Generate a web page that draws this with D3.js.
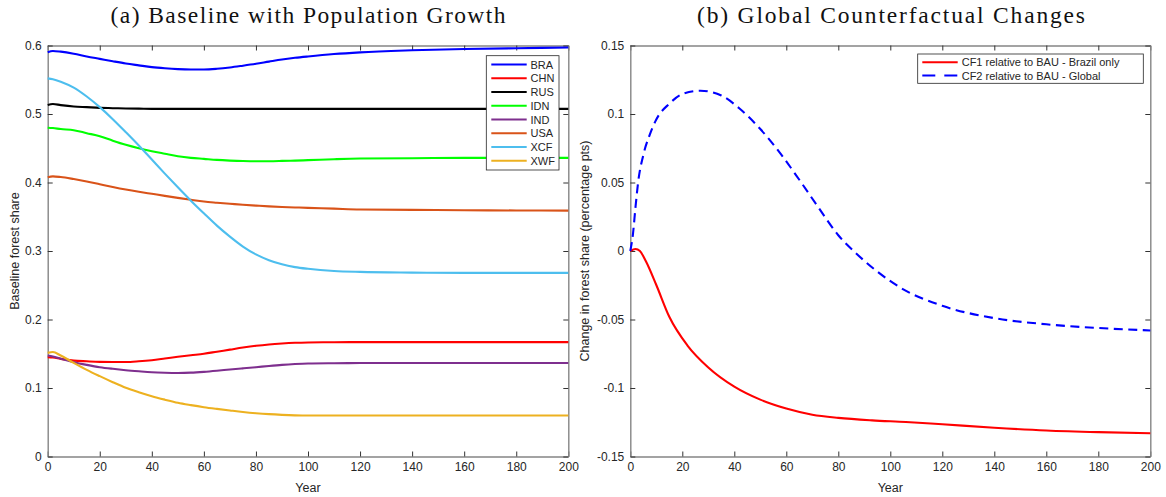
<!DOCTYPE html>
<html><head><meta charset="utf-8">
<script src="https://cdn.jsdelivr.net/npm/d3@7/dist/d3.min.js"></script>
<style>body{margin:0;background:#fff}svg{display:block}</style>
</head><body>
<svg id="c" width="1166" height="497"></svg>
<script>
// ---------- data ----------
const years = [0,2,5,10,15,20,25,30,35,40,45,50,55,60,65,70,75,80,85,90,95,100,110,120,140,160,180,200];
const BRA = [0.590,0.592,0.591,0.588,0.584,0.5805,0.577,0.5737,0.571,0.5684,0.5667,0.5655,0.565,0.565,0.566,0.5679,0.5705,0.5733,0.5765,0.5796,0.582,0.584,0.5875,0.590,0.593,0.595,0.596,0.597];
const CHN = [0.145,0.1445,0.1425,0.140,0.139,0.1382,0.138,0.138,0.139,0.1406,0.143,0.1455,0.1478,0.150,0.153,0.156,0.159,0.1616,0.1636,0.165,0.166,0.1665,0.1668,0.167,0.167,0.167,0.167,0.167];
const RUS = [0.513,0.5145,0.513,0.511,0.510,0.509,0.5085,0.508,0.5078,0.5075,0.5075,0.5075,0.5075,0.5075,0.5075,0.5075,0.5075,0.5075,0.5075,0.5075,0.5075,0.5075,0.5075,0.5075,0.5075,0.5075,0.5075,0.5075];
const IDN = [0.480,0.4795,0.478,0.4764,0.472,0.4676,0.461,0.455,0.450,0.4457,0.442,0.4384,0.436,0.4345,0.433,0.432,0.4313,0.431,0.4311,0.4315,0.432,0.4326,0.434,0.435,0.4355,0.436,0.436,0.436];
const IND = [0.1474,0.146,0.1426,0.1377,0.1338,0.1304,0.128,0.126,0.1244,0.123,0.1223,0.122,0.1224,0.1236,0.1252,0.127,0.1287,0.1304,0.1322,0.1338,0.135,0.1358,0.1362,0.1364,0.1365,0.1365,0.1365,0.1365];
const USA = [0.4078,0.409,0.408,0.405,0.4015,0.3975,0.3935,0.3898,0.3865,0.3835,0.3805,0.3776,0.3748,0.3722,0.3705,0.369,0.3675,0.3663,0.3652,0.3643,0.3636,0.363,0.3618,0.3606,0.360,0.3595,0.3592,0.359];
const XCF = [0.552,0.5508,0.5472,0.5385,0.5255,0.510,0.4925,0.4735,0.454,0.4335,0.413,0.393,0.3735,0.355,0.337,0.321,0.3065,0.295,0.2865,0.2805,0.2765,0.274,0.2708,0.2695,0.2685,0.268,0.268,0.268];
const XWF = [0.1513,0.1525,0.1474,0.1367,0.1265,0.1173,0.1085,0.1003,0.0938,0.088,0.083,0.0784,0.075,0.072,0.0695,0.0672,0.065,0.0632,0.0618,0.0608,0.0601,0.0598,0.0598,0.0598,0.0598,0.0598,0.0598,0.0598];
const seriesNames = ["BRA","CHN","RUS","IDN","IND","USA","XCF","XWF"];
const seriesValues = [BRA,CHN,RUS,IDN,IND,USA,XCF,XWF];

const cf2Years = [0,1,2,3,5,7.5,10,15,20,27,35,42,50,58,65,73,80,87,95,105,120,140,160,180,200];
const CF2 = [0,0.012,0.032,0.05,0.07,0.085,0.096,0.1075,0.1145,0.117,0.1135,0.104,0.089,0.0705,0.052,0.030,0.0115,-0.002,-0.015,-0.028,-0.040,-0.049,-0.0535,-0.0562,-0.058];
const cf1Years = [0,2,3.7,6,10,15,22,30,40,50,60,70,80,93,106,120,140,160,180,200];
const CF1 = [0,0.0015,0,-0.0075,-0.0248,-0.048,-0.069,-0.085,-0.099,-0.1085,-0.115,-0.1195,-0.1218,-0.1236,-0.1248,-0.1265,-0.129,-0.131,-0.1322,-0.133];
const cfNames = ["CF1 relative to BAU - Brazil only","CF2 relative to BAU - Global"];

const xTicks = [0,20,40,60,80,100,120,140,160,180,200];
const leftYTicks = [0,0.1,0.2,0.3,0.4,0.5,0.6];
const leftYLabels = ["0","0.1","0.2","0.3","0.4","0.5","0.6"];
const rightYTicks = [-0.15,-0.1,-0.05,0,0.05,0.1,0.15];
const rightYLabels = ["-0.15","-0.1","-0.05","0","0.05","0.1","0.15"];
const titles = ["(a) Baseline with Population Growth","(b) Global Counterfactual Changes"];
const yLabels = ["Baseline forest share","Change in forest share (percentage pts)"];
const xLabel = "Year";

// ---------- styles ----------
const colors = {BRA:"#0000ff",CHN:"#ff0000",RUS:"#000000",IDN:"#00ff00",IND:"#7e2f8e",USA:"#d95319",XCF:"#4dbeee",XWF:"#edb120"};
const SANS = "'Liberation Sans', Arial, Helvetica, sans-serif";
const SERIF = "'Liberation Serif', 'Times New Roman', serif";
const TXT = "#262626";
const LW = 2.1;

const svg = d3.select("#c");
const plotTop = 45.5, plotBottom = 456.5;

function panel(x0, x1, yDomain, yTicks, yTickLabels) {
  const x = d3.scaleLinear().domain([0,200]).range([x0,x1]);
  const y = d3.scaleLinear().domain(yDomain).range([plotBottom, plotTop]);
  const g = svg.append("g");
  const fmt = (arr, ticks) => (d => arr[ticks.indexOf(d)]);
  const ax = [
    [d3.axisBottom(x).tickValues(xTicks).tickFormat(d => String(d)), `translate(0,${plotBottom})`],
    [d3.axisTop(x).tickValues(xTicks).tickFormat(""), `translate(0,${plotTop})`],
    [d3.axisLeft(y).tickValues(yTicks).tickFormat(fmt(yTickLabels, yTicks)), `translate(${x0},0)`],
    [d3.axisRight(y).tickValues(yTicks).tickFormat(""), `translate(${x1},0)`]
  ];
  ax.forEach(([a, tr]) => {
    const ag = g.append("g").attr("transform", tr)
      .call(a.tickSizeInner(-5).tickSizeOuter(0).tickPadding(6));
    ag.select(".domain").attr("stroke", "#858585").attr("stroke-width", 1.4);
    ag.selectAll(".tick line").attr("stroke", "#333").attr("stroke-width", 1);
    ag.selectAll(".tick text").attr("fill", TXT).style("font-family", SANS).style("font-size", "12px");
  });
  return {x, y, g};
}

// ---------- left panel ----------
const L = panel(47.7, 568.3, [0,0.6], leftYTicks, leftYLabels);
const lineL = d3.line().x(d => L.x(d[0])).y(d => L.y(d[1])).curve(d3.curveMonotoneX);
seriesNames.forEach((n,i) => {
  L.g.append("path").datum(years.map((yr,j) => [yr, seriesValues[i][j]]))
    .attr("d", lineL).attr("fill","none").attr("stroke", colors[n]).attr("stroke-width", LW)
    .attr("stroke-linejoin","round");
});
// legend
{
  const lg = L.g.append("g");
  lg.append("rect").attr("x",486.3).attr("y",55.7).attr("width",72.7).attr("height",114.3)
    .attr("fill","#fff").attr("stroke","#262626").attr("stroke-width",0.8);
  seriesNames.forEach((n,i) => {
    const yy = 64.5 + i*13.75;
    lg.append("line").attr("x1",491.3).attr("x2",526.7).attr("y1",yy).attr("y2",yy)
      .attr("stroke", colors[n]).attr("stroke-width",LW);
    lg.append("text").attr("x",530.5).attr("y",yy+4).text(n)
      .attr("fill",TXT).style("font-family",SANS).style("font-size","11px");
  });
}

// ---------- right panel ----------
const R = panel(630.3, 1150.3, [-0.15,0.15], rightYTicks, rightYLabels);
const lineR = d3.line().x(d => R.x(d[0])).y(d => R.y(d[1])).curve(d3.curveMonotoneX);
R.g.append("path").datum(cf1Years.map((yr,j)=>[yr, CF1[j]]))
  .attr("d", lineR).attr("fill","none").attr("stroke","#ff0000").attr("stroke-width",LW);
R.g.append("path").datum(cf2Years.map((yr,j)=>[yr, CF2[j]]))
  .attr("d", lineR).attr("fill","none").attr("stroke","#0000ff").attr("stroke-width",LW)
  .attr("stroke-dasharray","9,5.5");
{
  const lg = R.g.append("g");
  lg.append("rect").attr("x",917.7).attr("y",54).attr("width",225.6).attr("height",29.3)
    .attr("fill","#fff").attr("stroke","#262626").attr("stroke-width",0.8);
  const cols = ["#ff0000","#0000ff"], dash = [null,"13,9"];
  cfNames.forEach((n,i) => {
    const yy = 62.3 + i*13.2;
    const ln = lg.append("line").attr("x1",922.3).attr("x2",957.7).attr("y1",yy).attr("y2",yy)
      .attr("stroke", cols[i]).attr("stroke-width",LW);
    if (dash[i]) ln.attr("stroke-dasharray", dash[i]);
    lg.append("text").attr("x",961.7).attr("y",yy+4).text(n)
      .attr("fill",TXT).style("font-family",SANS).style("font-size","11px");
  });
}

// ---------- titles and labels ----------
const titleSpecs = [[308, 395], [891, 388]];
titles.forEach((t,i) => {
  svg.append("text").attr("x", titleSpecs[i][0]).attr("y", 23).attr("text-anchor","middle")
    .attr("textLength", titleSpecs[i][1]).attr("lengthAdjust","spacing")
    .text(t).attr("fill","#111").style("font-family",SERIF).style("font-size","23.5px");
});
[308, 890.3].forEach(cx => {
  svg.append("text").attr("x",cx).attr("y",492).attr("text-anchor","middle").text(xLabel)
    .attr("fill",TXT).style("font-family",SANS).style("font-size","12.5px");
});
[[19, 251],[589, 251]].forEach(([xx,yy],i) => {
  svg.append("text").attr("transform",`translate(${xx},${yy}) rotate(-90)`).attr("text-anchor","middle")
    .text(yLabels[i]).attr("fill",TXT).style("font-family",SANS).style("font-size","12.5px");
});
</script>
</body></html>
